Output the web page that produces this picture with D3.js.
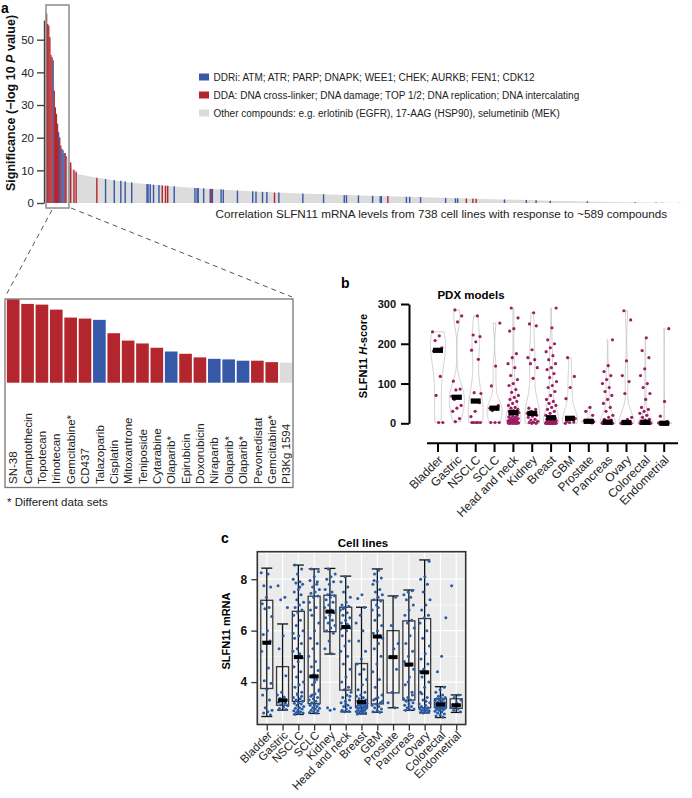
<!DOCTYPE html>
<html><head><meta charset="utf-8">
<script src="https://cdn.jsdelivr.net/npm/d3@7"></script>
<style>
body{margin:0;background:#fff;}
svg{display:block;font-family:"Liberation Sans",Arial,Helvetica,sans-serif;}
</style>
</head><body>
<svg id="fig" width="692" height="798"></svg>
<script>
// ---------------- DATA ----------------
// Panel a: top 20 compounds (also the inset)
const topNames = ["SN-38","Camptothecin","Topotecan","Irinotecan","Gemcitabine*","CD437","Talazoparib","Cisplatin","Mitoxantrone","Teniposide","Cytarabine","Olaparib*","Epirubicin","Doxorubicin","Niraparib","Olaparib*","Olaparib*","Pevonedistat","Gemcitabine*","PI3Kg 1594"];
const topValues = [58.0,54.8,54.3,50.8,45.3,44.6,43.7,34.4,29.3,27.3,24.3,21.7,20.1,17.6,16.6,16.2,15.3,15.3,14.3,13.9];
const topClass = ["DDA","DDA","DDA","DDA","DDA","DDA","DDRi","DDA","DDA","DDA","DDA","DDRi","DDA","DDA","DDRi","DDRi","DDRi","DDA","DDA","Other"];
const totalCompounds = 589;
// other compounds: outline of the ranked significance (rank, -log10 P)
const grayRanks  = [20, 22, 25, 28, 36, 50, 77, 95, 141, 187, 233, 288, 325, 371, 417, 462, 508, 554, 589];
const grayValues = [13.5, 12.0, 9.8, 9.0, 8.4, 7.6, 6.3, 5.7, 4.5, 3.6, 2.9, 2.3, 2.0, 1.5, 1.1, 0.7, 0.4, 0.15, 0.0];
// DDRi / DDA compounds beyond the top 20
const coloredRanks  = [22,25,27,46,54,62,68,72,78,92,93,95,98,103,106,109,111,117,136,138,139,144,150,151,152,160,162,175,189,192,198,202,209,213,235,254,273,275,286,299,306,307,313,330,333,343,366,375,377,385,391,394,420,440,449,462,496,540,559,565,580];
const coloredValues = [12.4,10.2,9.6,7.7,7.3,7.0,6.8,6.6,6.3,5.8,5.8,5.75,5.6,5.5,5.4,5.3,5.3,5.1,4.6,4.6,4.55,4.5,4.3,4.3,4.3,4.2,4.1,3.8,3.6,3.5,3.4,3.4,3.2,3.2,2.9,2.7,2.4,2.4,2.3,2.2,2.1,2.1,2.1,1.9,1.9,1.8,1.55,1.45,1.45,1.4,1.35,1.3,1.1,0.9,0.85,0.7,0.5,0.25,0.15,0.12,0.05];
const coloredClass  = ["DDA","DDA","DDA","DDA","DDRi","DDRi","DDRi","DDRi","DDRi","DDRi","DDRi","DDRi","DDRi","DDRi","DDA","DDA","DDA","DDRi","DDRi","DDRi","DDRi","DDRi","DDRi","DDA","DDRi","DDRi","DDRi","DDRi","DDRi","DDRi","DDRi","DDRi","DDA","DDRi","DDRi","DDRi","DDRi","DDRi","DDRi","DDRi","DDRi","DDRi","DDA","DDRi","DDRi","DDRi","DDRi","DDRi","DDRi","DDA","DDA","DDA","DDRi","DDRi","DDRi","DDRi","DDRi","DDRi","DDRi","DDRi","DDRi"];
const sigTicks = [0,10,20,30,40,50];
const legendKeys = ["DDRi","DDA","Other"];
const legendLabels = ["DDRi: ATM; ATR; PARP; DNAPK; WEE1; CHEK; AURKB; FEN1; CDK12","DDA: DNA cross-linker; DNA damage; TOP 1/2; DNA replication; DNA intercalating","Other compounds: e.g. erlotinib (EGFR), 17-AAG (HSP90), selumetinib (MEK)"];

// Panel b: PDX H-scores
const pdxCategories = ["Bladder","Gastric","NSCLC","SCLC","Head and neck","Kidney","Breast","GBM","Prostate","Pancreas","Ovary","Colorectal","Endometrial"];
const pdxScores = [
 [230,220,208,190,185,182,118,70,2,2],
 [285,270,255,106,86,84,68,63,60,45,38,30,12,4],
 [270,222,218,205,184,161,77,75,57,55,52,30,17,2,2,2,2,2],
 [252,144,94,45,40,38,36,32,2,2,2],
 [290,265,238,232,175,165,150,140,120,110,100,95,85,78,70,65,60,55,50,45,40,38,35,32,30,29,28,27,25,22,20,18,16,15,13,12,10,9,8,7,6,5,4,3,3,2,2,1,1,1,0,0,0,0,0],
 [278,250,245,185,165,160,150,140,113,38,35,30,25,24,22,20,18,15,10,8,5,3,2,0,0],
 [290,240,210,200,190,180,170,160,150,140,135,125,115,105,95,90,80,70,60,55,50,45,40,35,30,25,20,17,15,13,12,10,9,8,7,6,5,5,4,3,3,2,2,1,1,1,0,0,0,0,0,0,0,0,0,0,0,0],
 [165,118,90,62,15,13,12,10,5,3,2,0],
 [40,30,20,8,6,5,5,4,3,2,1],
 [210,145,130,120,110,100,90,80,70,60,50,40,30,20,15,10,8,5,3,2,1,1,0,0,0,0,0,0,0,0,0,0,0,0,0,0,0],
 [283,260,157,120,105,75,15,10,5,3,2,1,0,0,0,0,0,0,0,0,0],
 [215,183,165,137,120,100,90,75,60,40,35,30,25,20,15,10,8,5,4,3,2,1,1,0,0,0,0,0,0,0,0,0,0,0,0,0,0,0,0,0],
 [238,55,18,5,2,1,0,0,0,0,0,0,0]
];
const hscoreTicks = [0,100,200,300];

// Panel c: cell-line SLFN11 mRNA
const cellCategories = ["Bladder","Gastric","NSCLC","SCLC","Kidney","Head and neck","Breast","GBM","Prostate","Pancreas","Ovary","Colorectal","Endometrial"];
const cellWhiskerLow  = [2.66,2.91,2.74,2.78,5.09,2.84,2.76,2.83,3.00,2.90,2.80,2.62,2.82];
const cellQ1          = [3.75,3.10,3.25,3.16,5.96,3.69,3.00,3.15,3.58,3.30,3.00,3.00,2.98];
const cellMedian      = [5.53,3.29,4.97,4.22,6.74,6.14,3.22,5.77,4.97,4.68,4.38,3.13,3.10];
const cellQ3          = [7.18,4.60,6.75,7.34,7.38,6.91,4.72,7.19,6.00,6.38,6.47,3.35,3.35];
const cellWhiskerHigh = [8.43,6.26,8.55,8.40,8.42,8.12,6.91,8.40,7.35,7.58,8.75,3.82,3.50];
const cellPoints = [
 [8.25,8.2,7.75,7.7,7.3,7.05,6.9,6.85,6.55,6.0,5.85,5.6,5.5,5.2,4.55,4.05,3.95,3.7,3.5,3.3,3.0,2.9,2.85,2.8,2.72],
 [7.75,7.3,7.2,6.9,5.8,5.3,4.25,3.6,3.5,3.42,3.36,3.3,3.27,3.22,3.18,3.12,3.08,3.02,2.97,2.93],
 [8.55,8.4,8.2,8.0,7.9,7.85,7.8,7.6,7.5,7.4,7.2,7.1,7.0,6.9,6.8,6.7,6.6,6.4,6.2,6.0,5.8,5.7,5.5,5.3,5.2,5.1,5.0,4.95,4.8,4.6,4.4,4.2,4.0,3.9,3.8,3.6,3.5,3.4,3.35,3.3,3.25,3.2,3.18,3.15,3.1,3.05,3.0,2.98,2.95,2.9,2.88,2.85,2.82,2.8,2.78,2.75,3.45,3.55,5.9,7.7],
 [8.4,8.3,8.1,7.95,7.8,7.7,7.6,7.5,7.45,7.35,7.3,7.1,6.9,6.6,6.3,6.0,5.7,5.5,5.3,5.0,4.8,4.6,4.45,4.3,4.22,4.1,3.9,3.7,3.55,3.45,3.4,3.35,3.3,3.25,3.2,3.15,3.12,3.1,3.05,3.0,2.98,2.95,2.9,2.88,2.85,2.82,2.8,3.5,3.65,4.0,6.8,7.9],
 [8.4,8.2,8.1,8.0,7.9,7.8,7.6,7.5,7.4,7.35,7.3,7.2,7.1,7.0,6.9,6.8,6.75,6.7,6.6,6.5,6.4,6.3,6.2,6.1,6.0,5.9,5.6,5.3,5.1,3.0,2.95,2.9],
 [8.1,7.9,7.7,7.5,7.3,7.1,7.0,6.95,6.9,6.8,6.7,6.6,6.5,6.4,6.3,6.2,6.15,6.1,6.0,5.8,5.6,5.4,5.2,5.0,4.7,4.5,4.2,4.0,3.8,3.7,3.6,3.5,3.4,3.3,3.25,3.2,3.1,3.05,3.0,2.95,2.9,2.87,2.85,6.05,6.25,6.85,3.45,3.15],
 [7.4,7.25,6.9,6.6,6.3,6.0,5.6,5.2,4.9,4.7,4.5,4.3,4.1,3.9,3.7,3.6,3.5,3.45,3.4,3.35,3.3,3.28,3.25,3.22,3.2,3.18,3.15,3.12,3.1,3.08,3.05,3.03,3.0,2.98,2.95,2.93,2.9,2.88,2.86,2.84,2.82,2.8,2.78,2.76,3.26,3.14,3.02,2.92],
 [8.35,8.2,8.05,7.9,7.8,7.6,7.5,7.4,7.3,7.2,7.15,7.0,6.8,6.6,6.4,6.2,6.0,5.9,5.8,5.77,5.7,5.5,5.3,5.0,4.7,4.4,4.1,3.8,3.5,3.4,3.3,3.2,3.15,3.1,3.05,3.0,2.95,2.9,2.85,2.83,3.35,3.25,6.9,7.95],
 [7.3,6.2,5.5,5.3,4.97,4.5,3.6,3.2,3.0],
 [7.55,7.5,7.4,7.3,7.2,7.0,6.8,6.6,6.4,6.3,6.1,5.8,5.5,5.2,5.0,4.8,4.7,4.65,4.5,4.2,3.9,3.6,3.4,3.35,3.3,3.25,3.2,3.15,3.1,3.05,3.0,2.95,2.92,2.9,3.5,4.0],
 [8.7,8.1,8.0,7.8,7.5,7.2,7.0,6.8,6.6,6.5,6.3,6.0,5.7,5.4,5.1,4.9,4.7,4.5,4.4,4.35,4.2,4.0,3.8,3.6,3.4,3.3,3.2,3.1,3.05,3.0,2.98,2.95,2.92,2.9,2.88,2.86,2.84,2.82,2.8,3.15,3.25,3.55],
 [6.5,5.0,4.4,3.8,3.7,3.6,3.5,3.45,3.4,3.38,3.35,3.33,3.3,3.28,3.25,3.22,3.2,3.18,3.16,3.14,3.13,3.12,3.1,3.08,3.06,3.05,3.04,3.02,3.0,2.98,2.96,2.94,2.92,2.9,2.87,2.84,2.8,2.76,2.72,2.68,2.64],
 [7.75,3.5,3.4,3.3,3.2,3.12,3.1,3.05,3.0,2.95,2.9,2.85]
];
const mrnaTicks = [4,6,8];
const mrnaMinor = [3,5,7,9];

// ---------------- DRAWING ----------------
const svg = d3.select("#fig");
const colorOf = {DDRi:"#3658a8", DDA:"#b4262d", Other:"#dcdcdc"};
const jitter = i => ((i * 0.6180339887) % 1) - 0.5;

function panelLetter(t, x, y){
  svg.append("text").attr("x",x).attr("y",y).attr("font-size",14).attr("font-weight","bold").text(t);
}

// ===== Panel a =====
panelLetter("a", 1, 13);
const ax = d3.scaleLinear().domain([0, totalCompounds]).range([46, 688]);
const ay = d3.scaleLinear().domain([0, 56]).range([203, 20.1]);
const gA = svg.append("g");
const grayData = grayRanks.map((r,i)=>({r, v: grayValues[i]}));
gA.append("path").datum(grayData)
  .attr("fill", colorOf.Other)
  .attr("d", d3.area().x(d=>ax(d.r)).y0(ay(0)).y1(d=>ay(d.v)).curve(d3.curveMonotoneX));
const step = ax(1)-ax(0);
gA.selectAll("rect.top").data(topValues).join("rect").attr("class","top")
  .attr("x",(d,i)=>ax(i)).attr("width", step+0.2)
  .attr("y", d=>ay(d)).attr("height", d=>ay(0)-ay(d))
  .attr("fill",(d,i)=>colorOf[topClass[i]]);
gA.selectAll("rect.col").data(coloredRanks).join("rect").attr("class","col")
  .attr("x",d=>ax(d)).attr("width", 1.4)
  .attr("y",(d,i)=>ay(coloredValues[i])).attr("height",(d,i)=>ay(0)-ay(coloredValues[i]))
  .attr("fill",(d,i)=>colorOf[coloredClass[i]]);
const yAxA = gA.append("g").attr("transform","translate(44,0)")
  .call(d3.axisLeft(ay).tickValues(sigTicks).tickSize(7).tickSizeOuter(0).tickPadding(3));
yAxA.selectAll("path,line").attr("stroke","#444").attr("stroke-width",1.4);
yAxA.selectAll("text").attr("font-size",11.5).attr("fill","#222").attr("font-family",null);
const ttlA = gA.append("text").attr("transform","translate(15,103) rotate(-90)")
  .attr("text-anchor","middle").attr("font-size",12.5).attr("font-weight","bold").attr("fill","#111");
ttlA.append("tspan").text("Significance (\u2212log 10 ");
ttlA.append("tspan").attr("font-style","italic").text("P");
ttlA.append("tspan").text(" value)");
// highlight box and zoom lines
gA.append("rect").attr("x",46).attr("y",5).attr("width",23).attr("height",203)
  .attr("fill","none").attr("stroke","#8c8c8c").attr("stroke-width",1.5);
gA.append("line").attr("x1",52).attr("y1",210).attr("x2",5).attr("y2",297)
  .attr("stroke","#555").attr("stroke-dasharray","5,4");
gA.append("line").attr("x1",71).attr("y1",208).attr("x2",292).attr("y2",297)
  .attr("stroke","#555").attr("stroke-dasharray","5,4");
// legend
legendKeys.forEach((k,i)=>{
  const y = 73.5 + i*18;
  gA.append("rect").attr("x",199).attr("y",y).attr("width",10).attr("height",7).attr("fill",colorOf[k]);
  gA.append("text").attr("x",213.5).attr("y",y+7).attr("font-size",10).attr("fill","#222").text(legendLabels[i]);
});
gA.append("text").attr("x",215.5).attr("y",218).attr("font-size",11.7).attr("fill","#222")
  .text("Correlation SLFN11 mRNA levels from 738 cell lines with response to ~589 compounds");

// Inset
const gI = svg.append("g");
const ix = d3.scaleBand().domain(d3.range(topNames.length)).range([6.3, 293]).paddingInner(0.12).paddingOuter(0.04);
const iy = d3.scaleLinear().domain([0, 58]).range([382.7, 299.3]);
gI.selectAll("rect.ib").data(topValues).join("rect").attr("class","ib")
  .attr("x",(d,i)=>ix(i)).attr("width",ix.bandwidth())
  .attr("y",d=>iy(d)).attr("height",d=>iy(0)-iy(d))
  .attr("fill",(d,i)=>colorOf[topClass[i]]);
gI.selectAll("text.il").data(topNames).join("text").attr("class","il")
  .attr("transform",(d,i)=>`translate(${ix(i)+ix.bandwidth()/2},484) rotate(-90)`)
  .attr("dy","0.36em").attr("font-size",11.5).attr("fill","#222").text(d=>d);
gI.append("rect").attr("x",5).attr("y",299).attr("width",288).attr("height",188.5)
  .attr("fill","none").attr("stroke","#777").attr("stroke-width",1.3);
gI.append("text").attr("x",7).attr("y",506).attr("font-size",11.5).attr("fill","#222").text("* Different data sets");

// ===== Panel b =====
panelLetter("b", 341, 288);
const gB = svg.append("g");
const bx = d3.scalePoint().domain(pdxCategories).range([438, 664.2]);
const by = d3.scaleLinear().domain([0,300]).range([423.3, 304]);
gB.append("text").attr("x",471).attr("y",299).attr("text-anchor","middle").attr("font-size",11.5).attr("font-weight","bold").text("PDX models");
// violins
function nrd0(v){
  const s = v.slice().sort(d3.ascending);
  const sd = d3.deviation(s) || 1;
  const iqr = d3.quantile(s,0.75) - d3.quantile(s,0.25);
  let lo = Math.min(sd, iqr/1.34);
  if (!(lo > 0)) lo = sd;
  return Math.max(3, 0.9*lo*Math.pow(s.length,-0.2));
}
pdxCategories.forEach((c,ci)=>{
  const vals = pdxScores[ci];
  const bw = nrd0(vals);
  const lo = d3.min(vals), hi = d3.max(vals);
  const grid = d3.range(0,101).map(k=>lo + (hi-lo)*k/100);
  const dens = grid.map(t=>d3.mean(vals, v=>Math.exp(-0.5*((t-v)/bw)**2)));
  const mx = d3.max(dens);
  const w = d3.scaleLinear().domain([0,mx]).range([0,7.5]);
  const pts = grid.map((t,k)=>[bx(c)+w(dens[k]), by(t)])
    .concat(grid.slice().reverse().map((t,k)=>[bx(c)-w(dens[grid.length-1-k]), by(t)]));
  gB.append("path").attr("d", d3.line()(pts)+"Z").attr("fill","none").attr("stroke","#c4c4c4").attr("stroke-width",0.8);
  gB.selectAll(null).data(vals).join("circle")
    .attr("cx",(d,i)=>bx(c)+jitter(i+ci*7)*11).attr("cy",d=>by(d)).attr("r",1.6).attr("fill","#9c1d62");
  const med = d3.median(vals);
  gB.append("rect").attr("x",bx(c)-5).attr("y",by(med)-2.6).attr("width",10).attr("height",5.2).attr("fill","#000");
});
const yAxB = gB.append("g").attr("transform","translate(409,0)")
  .call(d3.axisLeft(by).tickValues(hscoreTicks).tickSize(8).tickSizeOuter(0).tickPadding(5));
yAxB.selectAll("path,line").attr("stroke","#000").attr("stroke-width",2);
yAxB.selectAll("text").attr("font-size",11).attr("font-weight","bold").attr("fill","#111").attr("font-family",null);
const ttlB = gB.append("text").attr("transform","translate(367,356) rotate(-90)")
  .attr("text-anchor","middle").attr("font-size",11).attr("font-weight","bold");
ttlB.append("tspan").text("SLFN11 ");
ttlB.append("tspan").attr("font-style","italic").text("H");
ttlB.append("tspan").text("-score");
// x axis
gB.append("line").attr("x1",427).attr("x2",678).attr("y1",443.3).attr("y2",443.3).attr("stroke","#000").attr("stroke-width",2);
gB.selectAll("line.bt").data(pdxCategories).join("line").attr("class","bt")
  .attr("x1",d=>bx(d)).attr("x2",d=>bx(d)).attr("y1",443.3).attr("y2",452).attr("stroke","#000").attr("stroke-width",2);
gB.selectAll("text.bl").data(pdxCategories).join("text").attr("class","bl")
  .attr("transform",d=>`translate(${bx(d)+3},458) rotate(-45)`)
  .attr("text-anchor","end").attr("dy","0.3em").attr("font-size",12).attr("fill","#222").text(d=>d);

// ===== Panel c =====
panelLetter("c", 221, 543);
const gC = svg.append("g");
const cx = d3.scalePoint().domain(cellCategories).range([257.3, 465.7]).padding(0.6);
const cy = d3.scaleLinear().domain([2.35, 9.07]).range([724.5, 551.7]);
gC.append("text").attr("x",363).attr("y",547).attr("text-anchor","middle").attr("font-size",11.5).attr("font-weight","bold").text("Cell lines");
gC.append("rect").attr("x",257.3).attr("y",551.7).attr("width",208.4).attr("height",172.8).attr("fill","#ebebeb");
gC.selectAll("line.mn").data(mrnaMinor).join("line").attr("class","mn")
  .attr("x1",257.3).attr("x2",465.7).attr("y1",d=>cy(d)).attr("y2",d=>cy(d)).attr("stroke","#fff").attr("stroke-width",0.6);
gC.selectAll("line.mj").data(mrnaTicks).join("line").attr("class","mj")
  .attr("x1",257.3).attr("x2",465.7).attr("y1",d=>cy(d)).attr("y2",d=>cy(d)).attr("stroke","#fff").attr("stroke-width",1.2);
gC.selectAll("line.vg").data(cellCategories).join("line").attr("class","vg")
  .attr("x1",d=>cx(d)).attr("x2",d=>cx(d)).attr("y1",551.7).attr("y2",724.5).attr("stroke","#fff").attr("stroke-width",1.2);
cellCategories.forEach((c,ci)=>{
  const x = cx(c);
  gC.append("rect").attr("x",x-6).attr("y",cy(cellQ3[ci])).attr("width",12).attr("height",cy(cellQ1[ci])-cy(cellQ3[ci]))
    .attr("fill","#ffffff").attr("fill-opacity",0.35).attr("stroke","#3a3a3a").attr("stroke-width",1.3);
  gC.append("line").attr("x1",x).attr("x2",x).attr("y1",cy(cellWhiskerLow[ci])).attr("y2",cy(cellWhiskerHigh[ci])).attr("stroke","#111").attr("stroke-width",1.3);
  [cellWhiskerLow[ci], cellWhiskerHigh[ci]].forEach(v=>{
    gC.append("line").attr("x1",x-5.5).attr("x2",x+5.5).attr("y1",cy(v)).attr("y2",cy(v)).attr("stroke","#111").attr("stroke-width",1.3);
  });
  gC.selectAll(null).data(cellPoints[ci]).join("circle")
    .attr("cx",(d,i)=>x+jitter(i+ci*5)*11).attr("cy",d=>cy(d)).attr("r",1.5).attr("fill","#2a5ba6");
  gC.append("rect").attr("x",x-4.5).attr("y",cy(cellMedian[ci])-2).attr("width",9).attr("height",4).attr("fill","#000");
});
gC.append("rect").attr("x",257.3).attr("y",551.7).attr("width",208.4).attr("height",172.8).attr("fill","none").attr("stroke","#333").attr("stroke-width",1.6);
const yAxC = gC.append("g").attr("transform","translate(257.3,0)")
  .call(d3.axisLeft(cy).tickValues(mrnaTicks).tickFormat(d3.format("d")).tickSize(6).tickSizeOuter(0).tickPadding(4));
yAxC.select("path").remove();
yAxC.selectAll("line").attr("stroke","#333").attr("stroke-width",1.3);
yAxC.selectAll("text").attr("font-size",12).attr("font-weight","bold").attr("fill","#111").attr("font-family",null);
const xAxC = gC.append("g").attr("transform","translate(0,724.5)")
  .call(d3.axisBottom(cx).tickSize(6).tickSizeOuter(0).tickPadding(4));
xAxC.select("path").remove();
xAxC.selectAll("line").attr("stroke","#333").attr("stroke-width",1.3);
xAxC.selectAll("text").attr("font-size",11.5).attr("fill","#222").attr("font-family",null)
  .attr("text-anchor","end").attr("dy",null).attr("y",null)
  .attr("transform","translate(3,9) rotate(-45)").attr("dy","0.3em");
gC.append("text").attr("transform","translate(230,631) rotate(-90)").attr("text-anchor","middle")
  .attr("font-size",11).attr("font-weight","bold").text("SLFN11 mRNA");
</script>
</body></html>
